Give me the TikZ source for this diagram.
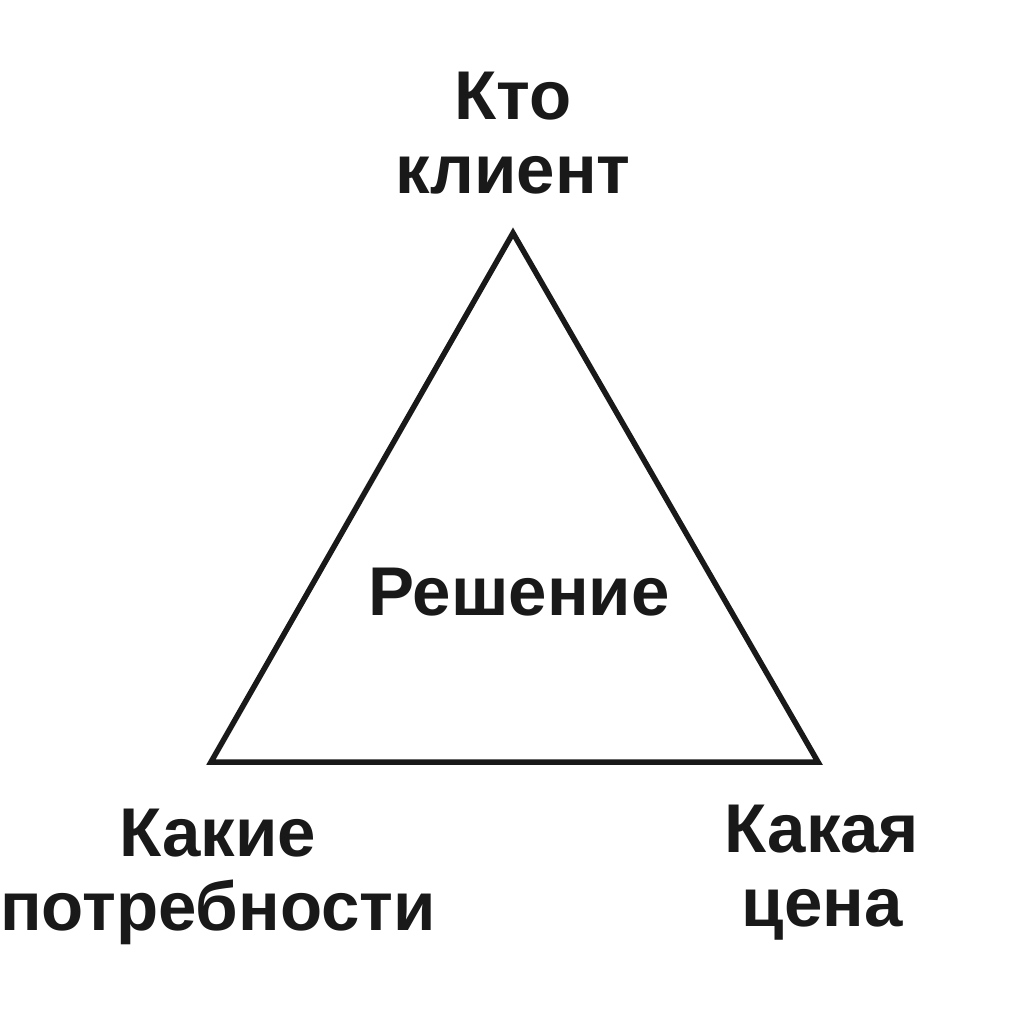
\documentclass[tikz,border=0pt]{standalone}
\usepackage{fontspec}
\setmainfont{Liberation Sans}
\usetikzlibrary{positioning}
\tikzstyle{corner}=[font=\bfseries\fontsize{69}{74}\selectfont, text=black!90, align=center, anchor=base, inner sep=0pt]
\tikzstyle{side}=[draw=black!90, line width=5.5pt, line join=miter]

\begin{document}
\begin{tikzpicture}[x=1pt, y=-1pt]
    \useasboundingbox (0,0) rectangle (1024,1024);
    % vertices of the triangle
    \coordinate (top) at (513,233);
    \coordinate (left) at (211,762);
    \coordinate (right) at (818,762);
    \draw[side] (top) -- (left) -- (right) -- cycle;
    % texts (base = last line)
    \node[corner] (client) at (513,194) {Кто\\клиент};
    \node[corner] (needs) at (218,930) {Какие\\потребности};
    \node[corner] (price) at (822,926) {Какая\\цена};
    \node[corner] (solution) at (519,615) {Решение};
\end{tikzpicture}
\end{document}
